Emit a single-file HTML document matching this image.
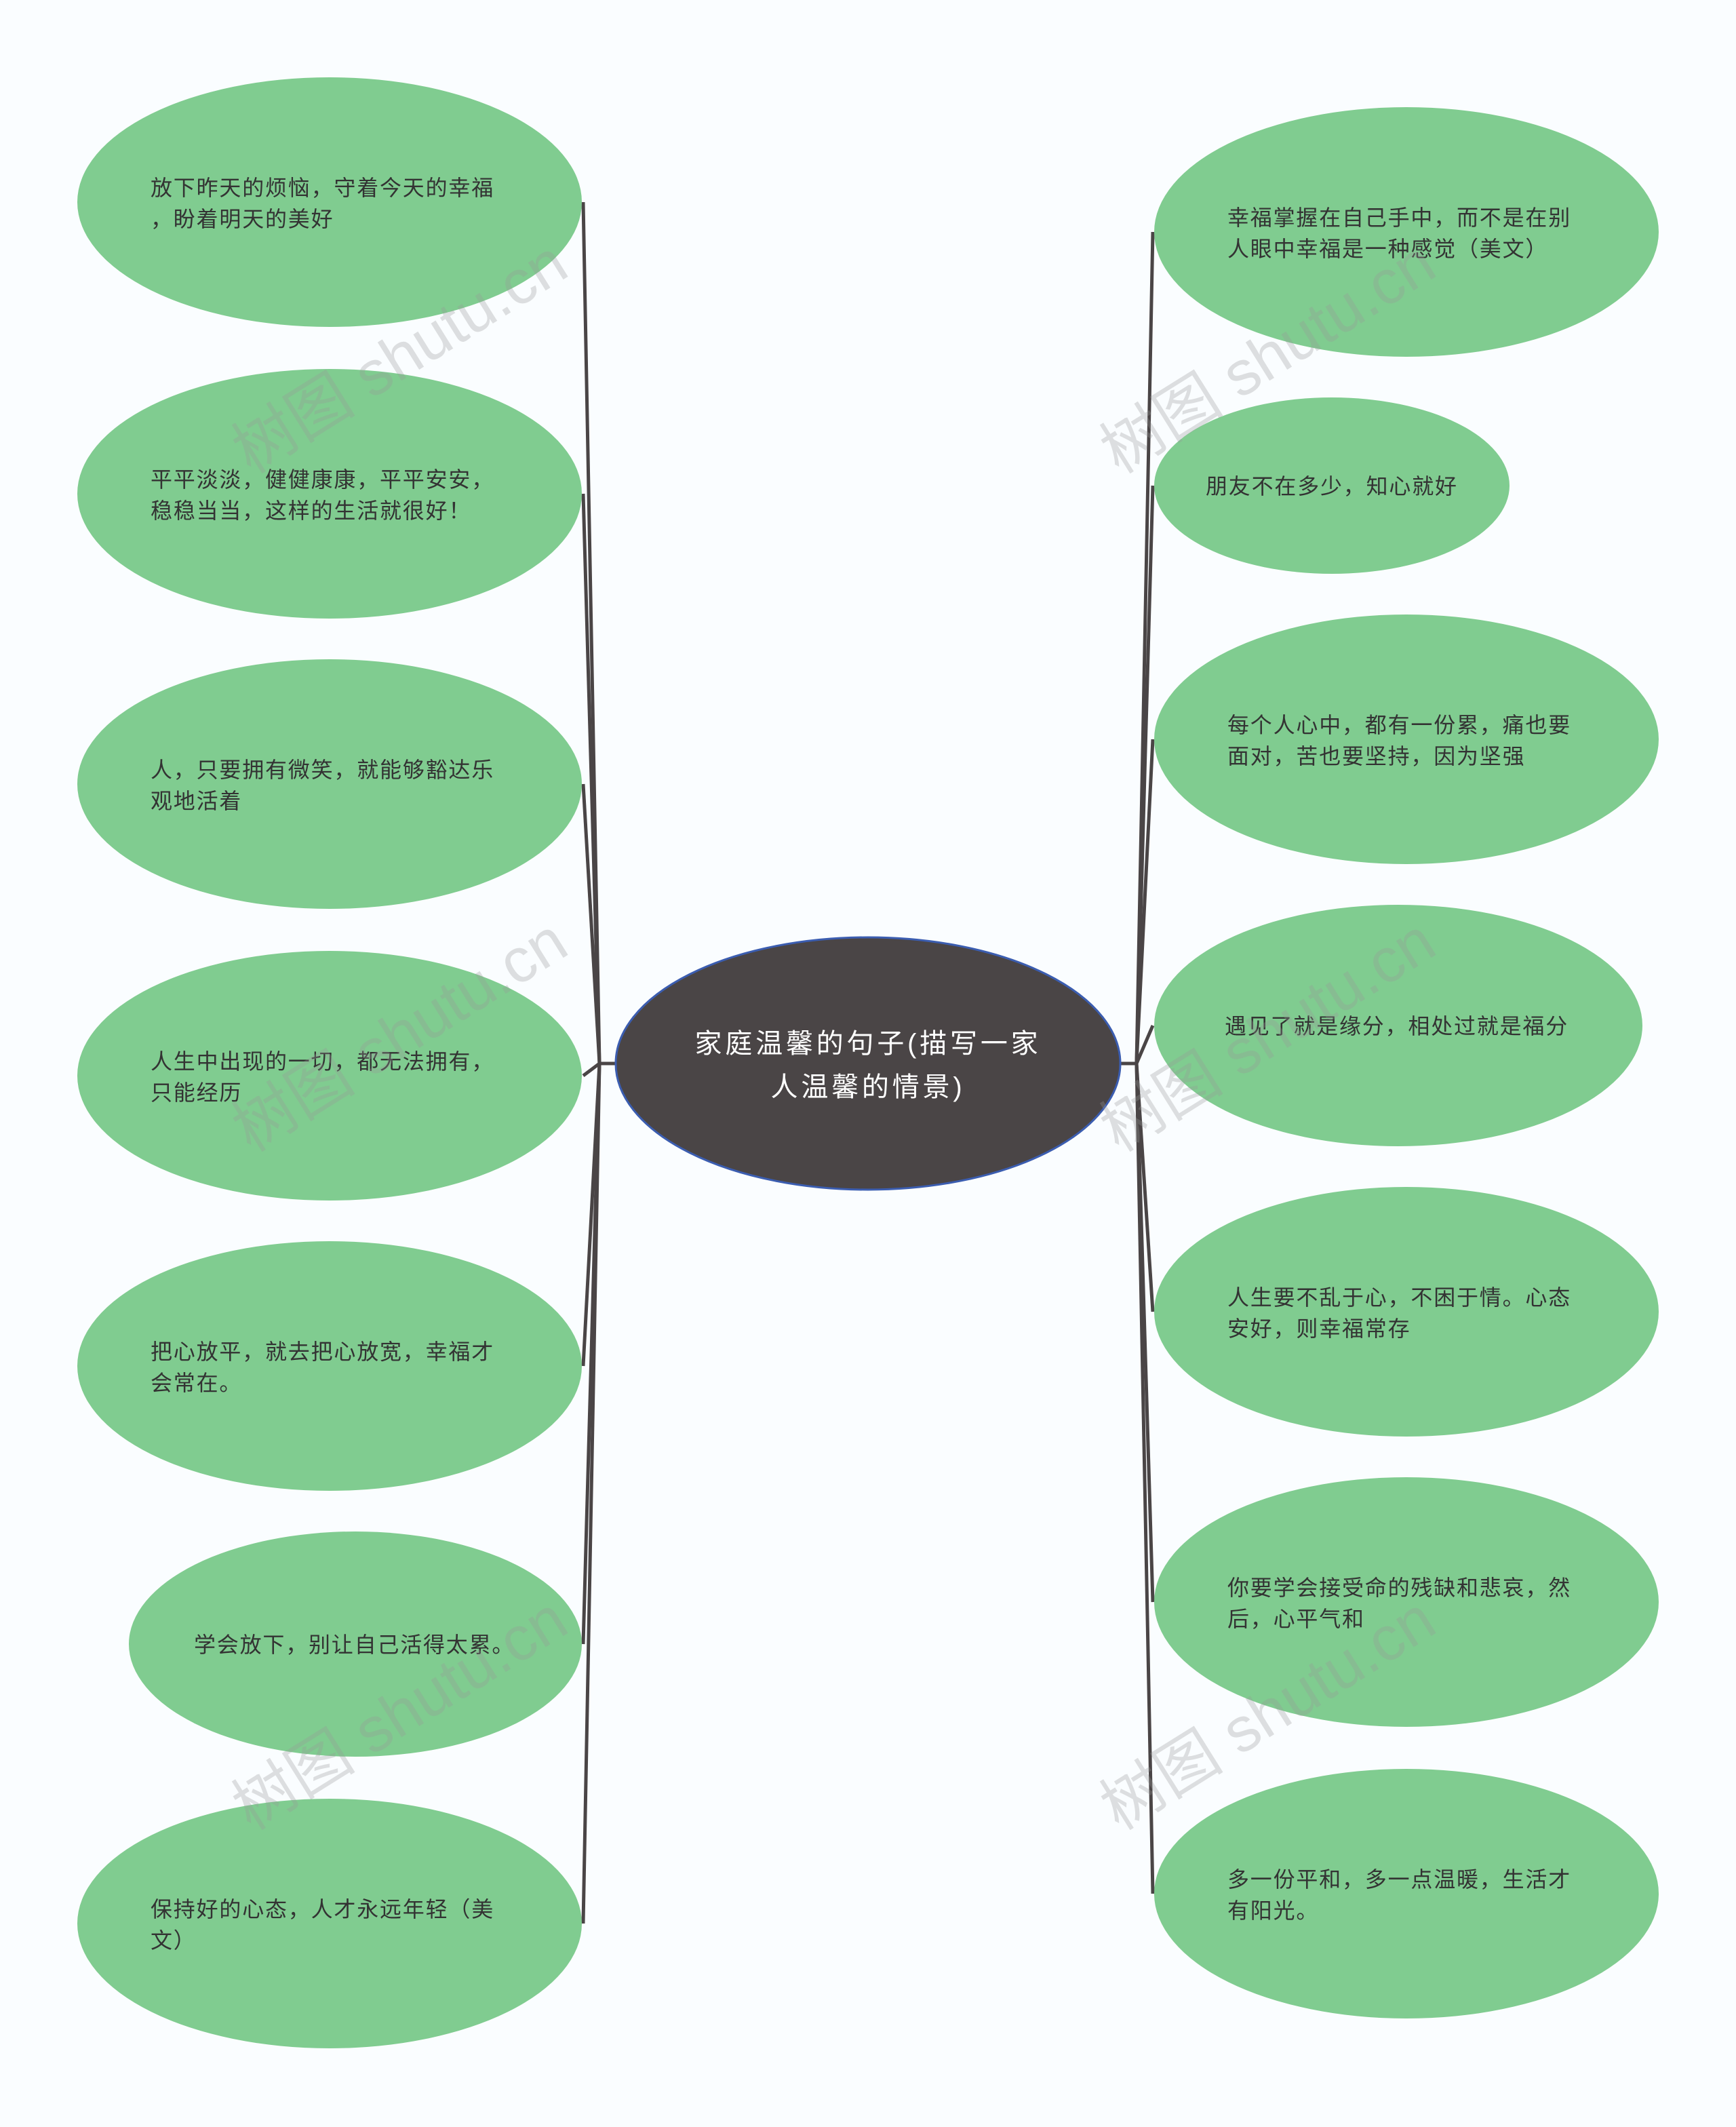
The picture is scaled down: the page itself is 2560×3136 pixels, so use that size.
<!DOCTYPE html>
<html><head><meta charset="utf-8"><style>
html,body{margin:0;padding:0;background:#fafdff;}
svg{display:block;}
text{font-family:"Liberation Sans","Noto Sans CJK SC",sans-serif;}
</style></head><body>
<svg width="2560" height="3136" viewBox="0 0 1280 1568" xmlns="http://www.w3.org/2000/svg">
<rect width="1280" height="1568" fill="#fafdff"/>
<g fill="none" stroke="#4a4546" stroke-width="2.5">
<path d="M454 784 H442 L430 149"/>
<path d="M442 784 L430 364"/>
<path d="M442 784 L430 578"/>
<path d="M442 784 L430 793"/>
<path d="M442 784 L430 1007"/>
<path d="M442 784 L430 1212"/>
<path d="M442 784 L430 1418"/>
<path d="M826 784 H838 L850 171"/>
<path d="M838 784 L850 358"/>
<path d="M838 784 L850 545"/>
<path d="M838 784 L850 756"/>
<path d="M838 784 L850 967"/>
<path d="M838 784 L850 1181"/>
<path d="M838 784 L850 1396"/>
</g>
<g fill="#80cc90">
<ellipse cx="243" cy="149" rx="186" ry="92"/>
<ellipse cx="243" cy="364" rx="186" ry="92"/>
<ellipse cx="243" cy="578" rx="186" ry="92"/>
<ellipse cx="243" cy="793" rx="186" ry="92"/>
<ellipse cx="243" cy="1007" rx="186" ry="92"/>
<ellipse cx="262" cy="1212" rx="167" ry="83"/>
<ellipse cx="243" cy="1418" rx="186" ry="92"/>
<ellipse cx="1037" cy="171" rx="186" ry="92"/>
<ellipse cx="982" cy="358" rx="131" ry="65"/>
<ellipse cx="1037" cy="545" rx="186" ry="92"/>
<ellipse cx="1031" cy="756" rx="180" ry="89"/>
<ellipse cx="1037" cy="967" rx="186" ry="92"/>
<ellipse cx="1037" cy="1181" rx="186" ry="92"/>
<ellipse cx="1037" cy="1396" rx="186" ry="92"/>
</g>
<ellipse cx="640" cy="784" rx="186" ry="93" fill="#4a4546" stroke="#3b5db0" stroke-width="1.5"/>
<g fill="#ffffff" font-size="20" text-anchor="middle" letter-spacing="2.4">
<text x="640" y="776">家庭温馨的句子(描写一家</text>
<text x="640" y="808">人温馨的情景)</text>
</g>
<g fill="#333333" font-size="16" letter-spacing="0.9">
<text x="111" y="144">放下昨天的烦恼，守着今天的幸福</text>
<text x="111" y="167">，盼着明天的美好</text>
<text x="111" y="359">平平淡淡，健健康康，平平安安，</text>
<text x="111" y="382">稳稳当当，这样的生活就很好！</text>
<text x="111" y="573">人，只要拥有微笑，就能够豁达乐</text>
<text x="111" y="596">观地活着</text>
<text x="111" y="788">人生中出现的一切，都无法拥有，</text>
<text x="111" y="811">只能经历</text>
<text x="111" y="1002">把心放平，就去把心放宽，幸福才</text>
<text x="111" y="1025">会常在。</text>
<text x="143" y="1218">学会放下，别让自己活得太累。</text>
<text x="111" y="1413">保持好的心态，人才永远年轻（美</text>
<text x="111" y="1436">文）</text>
<text x="905" y="166">幸福掌握在自己手中，而不是在别</text>
<text x="905" y="189">人眼中幸福是一种感觉（美文）</text>
<text x="889" y="364">朋友不在多少，知心就好</text>
<text x="905" y="540">每个人心中，都有一份累，痛也要</text>
<text x="905" y="563">面对，苦也要坚持，因为坚强</text>
<text x="903" y="762">遇见了就是缘分，相处过就是福分</text>
<text x="905" y="962">人生要不乱于心，不困于情。心态</text>
<text x="905" y="985">安好，则幸福常存</text>
<text x="905" y="1176">你要学会接受命的残缺和悲哀，然</text>
<text x="905" y="1199">后，心平气和</text>
<text x="905" y="1391">多一份平和，多一点温暖，生活才</text>
<text x="905" y="1414">有阳光。</text>
</g>
<g fill="#999999" fill-opacity="0.3" font-size="46" style="font-family:'Liberation Serif','Noto Serif CJK SC',serif">
<text transform="translate(185 350) rotate(-32)">树图 shutu.cn</text>
<text transform="translate(825 350) rotate(-32)">树图 shutu.cn</text>
<text transform="translate(185 850) rotate(-32)">树图 shutu.cn</text>
<text transform="translate(825 850) rotate(-32)">树图 shutu.cn</text>
<text transform="translate(185 1350) rotate(-32)">树图 shutu.cn</text>
<text transform="translate(825 1350) rotate(-32)">树图 shutu.cn</text>
</g>
</svg>
</body></html>
